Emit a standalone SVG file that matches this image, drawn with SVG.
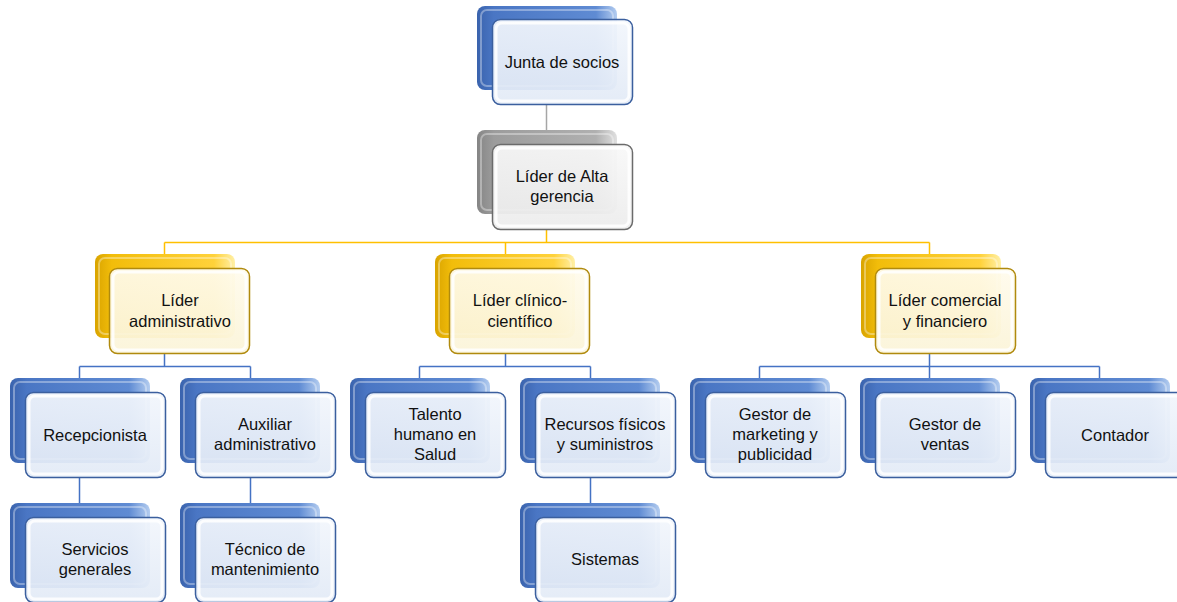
<svg xmlns="http://www.w3.org/2000/svg" width="1177" height="602" viewBox="0 0 1177 602">
<defs>
<linearGradient id="gBlue" x1="0" y1="0" x2="1" y2="0">
<stop offset="0" stop-color="#3a63ad"/><stop offset="0.12" stop-color="#4a76c4"/><stop offset="0.85" stop-color="#5f8bd3"/><stop offset="1" stop-color="#b4cdf0"/>
</linearGradient>
<linearGradient id="gYellow" x1="0" y1="0" x2="1" y2="0">
<stop offset="0" stop-color="#d9a400"/><stop offset="0.12" stop-color="#f2bd0a"/><stop offset="0.85" stop-color="#ffd23a"/><stop offset="1" stop-color="#fff0a8"/>
</linearGradient>
<linearGradient id="gGray" x1="0" y1="0" x2="1" y2="0">
<stop offset="0" stop-color="#858585"/><stop offset="0.12" stop-color="#9c9c9c"/><stop offset="0.85" stop-color="#b0b0b0"/><stop offset="1" stop-color="#e0e0e0"/>
</linearGradient>
<linearGradient id="fBlue" x1="0" y1="0" x2="0" y2="1">
<stop offset="0" stop-color="#f2f6fc"/><stop offset="1" stop-color="#e2eaf6"/>
</linearGradient>
<linearGradient id="fYellow" x1="0" y1="0" x2="0" y2="1">
<stop offset="0" stop-color="#fffbec"/><stop offset="1" stop-color="#fbf4d8"/>
</linearGradient>
<linearGradient id="fGray" x1="0" y1="0" x2="0" y2="1">
<stop offset="0" stop-color="#f8f8f8"/><stop offset="1" stop-color="#ececec"/>
</linearGradient>
</defs>
<style>
.back{stroke:none}
.blue .back{fill:url(#gBlue)}
.yellow .back{fill:url(#gYellow)}
.gray .back{fill:url(#gGray)}
.front{stroke-width:1.5;fill-opacity:0.93}
.blue .front{fill:url(#fBlue);stroke:#3b5f9e}
.yellow .front{fill:url(#fYellow);stroke:#b08a0e}
.gray .front{fill:url(#fGray);stroke:#6b6b6b}
.bevel{fill:none;stroke:#ffffff;stroke-width:3;stroke-opacity:0.85}
.hl{fill:none;stroke:#ffffff;stroke-width:2;stroke-opacity:0.35}
text{font-family:"Liberation Sans",Arial,sans-serif;font-size:16.5px;fill:#111111;text-anchor:middle}
.c{fill:none;stroke-width:1.5}
.cg{stroke:#a6a6a6}
.cy{stroke:#ffc000}
.cb{stroke:#4472c4}
</style>
<g id="connectors">
<path class="c cg" d="M546.5 104 V144"/>
<path class="c cy" d="M546.5 229 V242.5 M164.5 242.5 H929.5 M164.5 242.5 V254 M505.5 242.5 V254 M929.5 242.5 V254"/>
<path class="c cb" d="M164.5 354 V366.5 M79.5 366.5 H250.5 M79.5 366.5 V378 M250.5 366.5 V378 M79.5 478 V503 M250.5 478 V503"/>
<path class="c cb" d="M505.5 354 V366.5 M419.5 366.5 H590.5 M419.5 366.5 V378 M590.5 366.5 V378 M590.5 478 V503"/>
<path class="c cb" d="M929.5 354 V366.5 M759.5 366.5 H1099.5 M759.5 366.5 V378 M929.5 366.5 V378 M1099.5 366.5 V378"/>
</g>
<g id="n-junta" class="blue">
<rect class="back" x="477" y="6" width="140" height="84" rx="8"/>
<rect class="hl" x="481" y="10" width="132" height="76" rx="6"/>
<rect class="front" x="492.5" y="19.5" width="140" height="85" rx="8"/>
<rect class="bevel" x="496" y="23" width="133" height="78" rx="6"/>
<text x="562" y="68">Junta de socios</text>
</g>
<g id="n-alta" class="gray">
<rect class="back" x="477" y="130" width="140" height="84" rx="8"/>
<rect class="hl" x="481" y="134" width="132" height="76" rx="6"/>
<rect class="front" x="492.5" y="144.5" width="140" height="85" rx="8"/>
<rect class="bevel" x="496" y="148" width="133" height="78" rx="6"/>
<text x="562" y="182">Líder de Alta</text>
<text x="562" y="202">gerencia</text>
</g>
<g id="n-admin" class="yellow">
<rect class="back" x="95" y="254" width="140" height="84" rx="8"/>
<rect class="hl" x="99" y="258" width="132" height="76" rx="6"/>
<rect class="front" x="109.5" y="268.5" width="140" height="85" rx="8"/>
<rect class="bevel" x="113" y="272" width="133" height="78" rx="6"/>
<text x="180" y="306">Líder</text>
<text x="180" y="327">administrativo</text>
</g>
<g id="n-clinico" class="yellow">
<rect class="back" x="435" y="254" width="140" height="84" rx="8"/>
<rect class="hl" x="439" y="258" width="132" height="76" rx="6"/>
<rect class="front" x="449.5" y="268.5" width="140" height="85" rx="8"/>
<rect class="bevel" x="453" y="272" width="133" height="78" rx="6"/>
<text x="520" y="306">Líder clínico-</text>
<text x="520" y="327">científico</text>
</g>
<g id="n-comercial" class="yellow">
<rect class="back" x="861" y="254" width="140" height="84" rx="8"/>
<rect class="hl" x="865" y="258" width="132" height="76" rx="6"/>
<rect class="front" x="875.5" y="268.5" width="140" height="85" rx="8"/>
<rect class="bevel" x="879" y="272" width="133" height="78" rx="6"/>
<text x="945" y="306">Líder comercial</text>
<text x="945" y="327">y financiero</text>
</g>
<g id="n-recep" class="blue">
<rect class="back" x="10" y="378" width="140" height="85" rx="8"/>
<rect class="hl" x="14" y="382" width="132" height="77" rx="6"/>
<rect class="front" x="25.5" y="392.5" width="140" height="85" rx="8"/>
<rect class="bevel" x="29" y="396" width="133" height="78" rx="6"/>
<text x="95" y="441">Recepcionista</text>
</g>
<g id="n-aux" class="blue">
<rect class="back" x="180" y="378" width="140" height="85" rx="8"/>
<rect class="hl" x="184" y="382" width="132" height="77" rx="6"/>
<rect class="front" x="195.5" y="392.5" width="140" height="85" rx="8"/>
<rect class="bevel" x="199" y="396" width="133" height="78" rx="6"/>
<text x="265" y="430">Auxiliar</text>
<text x="265" y="450">administrativo</text>
</g>
<g id="n-talento" class="blue">
<rect class="back" x="350" y="378" width="140" height="85" rx="8"/>
<rect class="hl" x="354" y="382" width="132" height="77" rx="6"/>
<rect class="front" x="365.5" y="392.5" width="140" height="85" rx="8"/>
<rect class="bevel" x="369" y="396" width="133" height="78" rx="6"/>
<text x="435" y="420">Talento</text>
<text x="435" y="440">humano en</text>
<text x="435" y="460">Salud</text>
</g>
<g id="n-recursos" class="blue">
<rect class="back" x="520" y="378" width="140" height="85" rx="8"/>
<rect class="hl" x="524" y="382" width="132" height="77" rx="6"/>
<rect class="front" x="535.5" y="392.5" width="140" height="85" rx="8"/>
<rect class="bevel" x="539" y="396" width="133" height="78" rx="6"/>
<text x="605" y="430">Recursos físicos</text>
<text x="605" y="450">y suministros</text>
</g>
<g id="n-marketing" class="blue">
<rect class="back" x="690" y="378" width="140" height="85" rx="8"/>
<rect class="hl" x="694" y="382" width="132" height="77" rx="6"/>
<rect class="front" x="705.5" y="392.5" width="140" height="85" rx="8"/>
<rect class="bevel" x="709" y="396" width="133" height="78" rx="6"/>
<text x="775" y="420">Gestor de</text>
<text x="775" y="440">marketing y</text>
<text x="775" y="460">publicidad</text>
</g>
<g id="n-ventas" class="blue">
<rect class="back" x="860" y="378" width="140" height="85" rx="8"/>
<rect class="hl" x="864" y="382" width="132" height="77" rx="6"/>
<rect class="front" x="875.5" y="392.5" width="140" height="85" rx="8"/>
<rect class="bevel" x="879" y="396" width="133" height="78" rx="6"/>
<text x="945" y="430">Gestor de</text>
<text x="945" y="450">ventas</text>
</g>
<g id="n-contador" class="blue">
<rect class="back" x="1030" y="378" width="140" height="85" rx="8"/>
<rect class="hl" x="1034" y="382" width="132" height="77" rx="6"/>
<rect class="front" x="1045.5" y="392.5" width="140" height="85" rx="8"/>
<rect class="bevel" x="1049" y="396" width="133" height="78" rx="6"/>
<text x="1115" y="441">Contador</text>
</g>
<g id="n-servicios" class="blue">
<rect class="back" x="10" y="503" width="140" height="85" rx="8"/>
<rect class="hl" x="14" y="507" width="132" height="77" rx="6"/>
<rect class="front" x="25.5" y="517.5" width="140" height="85" rx="8"/>
<rect class="bevel" x="29" y="521" width="133" height="78" rx="6"/>
<text x="95" y="555">Servicios</text>
<text x="95" y="575">generales</text>
</g>
<g id="n-tecnico" class="blue">
<rect class="back" x="180" y="503" width="140" height="85" rx="8"/>
<rect class="hl" x="184" y="507" width="132" height="77" rx="6"/>
<rect class="front" x="195.5" y="517.5" width="140" height="85" rx="8"/>
<rect class="bevel" x="199" y="521" width="133" height="78" rx="6"/>
<text x="265" y="555">Técnico de</text>
<text x="265" y="575">mantenimiento</text>
</g>
<g id="n-sistemas" class="blue">
<rect class="back" x="520" y="503" width="140" height="85" rx="8"/>
<rect class="hl" x="524" y="507" width="132" height="77" rx="6"/>
<rect class="front" x="535.5" y="517.5" width="140" height="85" rx="8"/>
<rect class="bevel" x="539" y="521" width="133" height="78" rx="6"/>
<text x="605" y="565">Sistemas</text>
</g>
</svg>
